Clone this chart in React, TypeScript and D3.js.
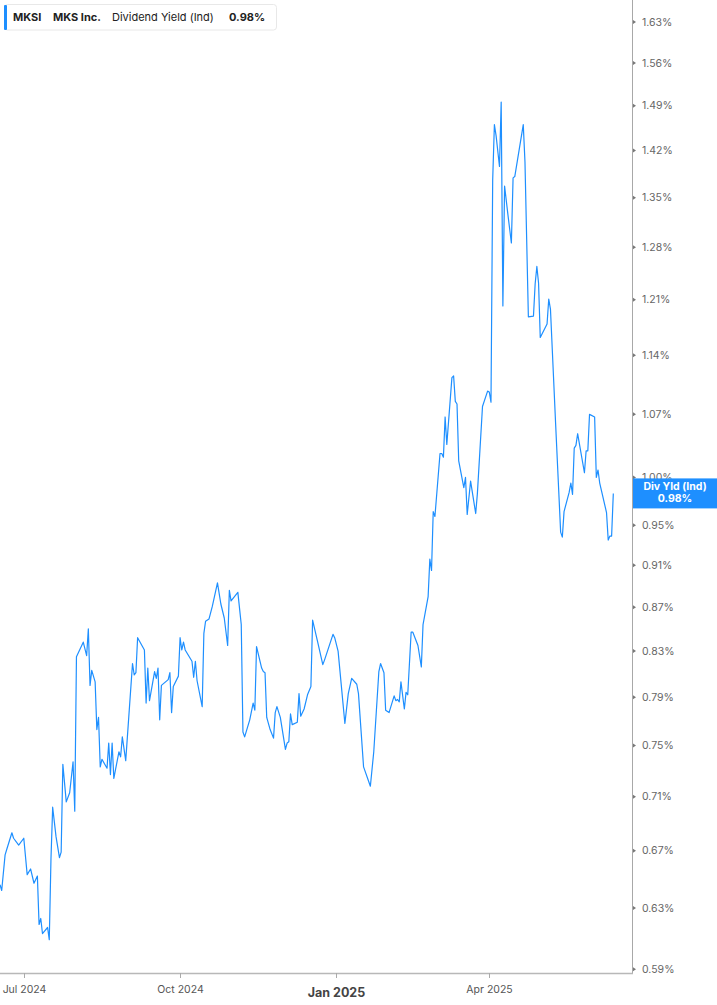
import * as d3 from 'd3';
import { useEffect, useRef } from 'react';

// trace of the dividend yield line (daily-ish points)
const dates: string[] = [
  "2024-06-17", "2024-06-18", "2024-06-20", "2024-06-21", "2024-06-24", "2024-06-25", "2024-06-28",
  "2024-07-01", "2024-07-03", "2024-07-05", "2024-07-07", "2024-07-09", "2024-07-10", "2024-07-11", "2024-07-12", "2024-07-15", "2024-07-16", "2024-07-17", "2024-07-18", "2024-07-20", "2024-07-22", "2024-07-23", "2024-07-24", "2024-07-26", "2024-07-28", "2024-07-30", "2024-07-31",
  "2024-08-01", "2024-08-05", "2024-08-07", "2024-08-08", "2024-08-09", "2024-08-10", "2024-08-12", "2024-08-13", "2024-08-14", "2024-08-15", "2024-08-16", "2024-08-19", "2024-08-20", "2024-08-21", "2024-08-22", "2024-08-23", "2024-08-26", "2024-08-27", "2024-08-28", "2024-08-30",
  "2024-09-03", "2024-09-04", "2024-09-05", "2024-09-06", "2024-09-10", "2024-09-11", "2024-09-12", "2024-09-13", "2024-09-16", "2024-09-17", "2024-09-18", "2024-09-19", "2024-09-20", "2024-09-24", "2024-09-25", "2024-09-26", "2024-09-27", "2024-09-30",
  "2024-10-01", "2024-10-02", "2024-10-03", "2024-10-04", "2024-10-08", "2024-10-09", "2024-10-10", "2024-10-11", "2024-10-14", "2024-10-15", "2024-10-16", "2024-10-18", "2024-10-20", "2024-10-23", "2024-10-25", "2024-10-27", "2024-10-29", "2024-10-30", "2024-10-31",
  "2024-11-04", "2024-11-06", "2024-11-07", "2024-11-08", "2024-11-11", "2024-11-13", "2024-11-14", "2024-11-15", "2024-11-18", "2024-11-19", "2024-11-20", "2024-11-21", "2024-11-23", "2024-11-25", "2024-11-26", "2024-11-27", "2024-11-29",
  "2024-12-02", "2024-12-03", "2024-12-04", "2024-12-05", "2024-12-06", "2024-12-09", "2024-12-10", "2024-12-11", "2024-12-13", "2024-12-15", "2024-12-17", "2024-12-18", "2024-12-21", "2024-12-24", "2024-12-25", "2024-12-30", "2024-12-31",
  "2025-01-02", "2025-01-06", "2025-01-08", "2025-01-10", "2025-01-13", "2025-01-14", "2025-01-17", "2025-01-21", "2025-01-23", "2025-01-26", "2025-01-27", "2025-01-29", "2025-01-30",
  "2025-02-01", "2025-02-04", "2025-02-05", "2025-02-06", "2025-02-07", "2025-02-08", "2025-02-10", "2025-02-11", "2025-02-12", "2025-02-14", "2025-02-15", "2025-02-18", "2025-02-20", "2025-02-21", "2025-02-24", "2025-02-25", "2025-02-26", "2025-02-27", "2025-02-28",
  "2025-03-03", "2025-03-04", "2025-03-05", "2025-03-06", "2025-03-07", "2025-03-10", "2025-03-11", "2025-03-12", "2025-03-13", "2025-03-14", "2025-03-17", "2025-03-18", "2025-03-19", "2025-03-21", "2025-03-24", "2025-03-25", "2025-03-28", "2025-03-31",
  "2025-04-01", "2025-04-02", "2025-04-03", "2025-04-04", "2025-04-05", "2025-04-07", "2025-04-08", "2025-04-09", "2025-04-10", "2025-04-12", "2025-04-14", "2025-04-15", "2025-04-16", "2025-04-21", "2025-04-22", "2025-04-24", "2025-04-27", "2025-04-28", "2025-04-29", "2025-04-30",
  "2025-05-01", "2025-05-05", "2025-05-06", "2025-05-07", "2025-05-10", "2025-05-13", "2025-05-14", "2025-05-15", "2025-05-18", "2025-05-19", "2025-05-20", "2025-05-21", "2025-05-22", "2025-05-23", "2025-05-27", "2025-05-28", "2025-05-29", "2025-05-30",
  "2025-06-02", "2025-06-03", "2025-06-04", "2025-06-05", "2025-06-09", "2025-06-10", "2025-06-11", "2025-06-12", "2025-06-13",
];

const yields: number[] = [
  0.646, 0.642, 0.667, 0.671, 0.683, 0.679, 0.674,
  0.679, 0.653, 0.657, 0.647, 0.652, 0.619, 0.623, 0.613, 0.617, 0.609, 0.664, 0.702, 0.680, 0.665, 0.669, 0.735, 0.706, 0.713, 0.737, 0.699,
  0.825, 0.838, 0.826, 0.850, 0.800, 0.813, 0.803, 0.763, 0.773, 0.733, 0.739, 0.732, 0.752, 0.727, 0.752, 0.724, 0.745, 0.741, 0.757, 0.738,
  0.819, 0.809, 0.811, 0.842, 0.831, 0.785, 0.815, 0.787, 0.812, 0.806, 0.815, 0.771, 0.800, 0.805, 0.811, 0.777, 0.799, 0.808,
  0.842, 0.831, 0.838, 0.831, 0.821, 0.807, 0.821, 0.804, 0.782, 0.846, 0.857, 0.859, 0.871, 0.893, 0.873, 0.860, 0.835, 0.886, 0.876,
  0.884, 0.854, 0.761, 0.757, 0.771, 0.785, 0.779, 0.834, 0.815, 0.812, 0.811, 0.773, 0.763, 0.756, 0.777, 0.782, 0.773,
  0.747, 0.752, 0.753, 0.776, 0.767, 0.769, 0.793, 0.774, 0.780, 0.792, 0.799, 0.858, 0.838, 0.818, 0.822, 0.845, 0.842,
  0.830, 0.768, 0.793, 0.806, 0.801, 0.793, 0.733, 0.718, 0.745, 0.812, 0.819, 0.811, 0.779,
  0.777, 0.791, 0.787, 0.788, 0.786, 0.803, 0.780, 0.794, 0.792, 0.847, 0.847, 0.835, 0.816, 0.854, 0.880, 0.916, 0.905, 0.964, 0.959,
  1.026, 1.026, 1.022, 1.067, 1.036, 1.113, 1.115, 1.085, 1.082, 1.018, 0.989, 1.000, 0.961, 0.996, 0.962, 0.983, 1.079, 1.097,
  1.096, 1.084, 1.376, 1.460, 1.443, 1.396, 1.496, 1.202, 1.367, 1.325, 1.286, 1.379, 1.381, 1.460, 1.403, 1.188, 1.189, 1.231, 1.254, 1.232,
  1.162, 1.179, 1.211, 1.198, 1.061, 0.943, 0.938, 0.964, 0.984, 0.994, 0.982, 1.032, 1.035, 1.048, 1.005, 1.029, 1.029, 1.070,
  1.067, 1.000, 1.008, 0.994, 0.963, 0.935, 0.939, 0.939, 0.983,
];

const yTicks = [1.63, 1.56, 1.49, 1.42, 1.35, 1.28, 1.21, 1.14, 1.07, 1.0, 0.95, 0.91, 0.87, 0.83, 0.79, 0.75, 0.71, 0.67, 0.63, 0.59];
const xTicks = ["2024-07-01", "2024-10-01", "2025-01-01", "2025-04-01"];
const xTickLabels = ["Jul 2024", "Oct 2024", "Jan 2025", "Apr 2025"];

const App = () => {
  const ref = useRef<SVGSVGElement>(null);

  useEffect(() => {
    const width = 717, height = 1005;
    const plotW = 632, plotH = 973;
    const font = "Inter, Roboto, 'Noto Sans', sans-serif";
    const parse = d3.timeParse("%Y-%m-%d");

    const svg = d3.select(ref.current);
    svg.selectAll("*").remove();
    svg.attr("width", width).attr("height", height).style("background", "#fff");

    const x = d3.scaleTime()
      .domain([new Date(2024, 5, 17), new Date(2025, 5, 24)])
      .range([0, plotW]);
    const y = d3.scaleLog()
      .domain([0.5876, 1.669])
      .range([plotH, 0]);

    const data = dates.map((d, i) => ({ date: parse(d) as Date, v: yields[i] }));

    // line
    const line = d3.line<any>()
      .x((d: any) => x(d.date))
      .y((d: any) => y(d.v));
    svg.append("path")
      .datum(data)
      .attr("fill", "none")
      .attr("stroke", "#1e8fff")
      .attr("stroke-width", 1.2)
      .attr("stroke-linejoin", "round")
      .attr("d", line);

    // y axis
    svg.append("line")
      .attr("x1", plotW + 0.5).attr("x2", plotW + 0.5)
      .attr("y1", 0).attr("y2", plotH + 1)
      .attr("stroke", "#a8a8a8");
    const yg = svg.append("g");
    yTicks.forEach((t) => {
      yg.append("path")
        .attr("d", `M${plotW + 1},${y(t) - 2} L${plotW + 4},${y(t)} L${plotW + 1},${y(t) + 2} Z`)
        .attr("fill", "#777");
      yg.append("text")
        .attr("x", plotW + 10)
        .attr("y", y(t))
        .attr("dy", "0.35em")
        .attr("font-family", font)
        .attr("font-size", 10.5)
        .attr("fill", "#666")
        .text(t.toFixed(2) + "%");
    });

    // x axis
    svg.append("line")
      .attr("x1", 0).attr("x2", plotW + 1)
      .attr("y1", plotH + 0.5).attr("y2", plotH + 0.5)
      .attr("stroke", "#b8b8b8")
      .attr("stroke-width", 1.6);
    xTicks.forEach((t, i) => {
      const px = Math.round(x(parse(t) as Date)) + 0.5;
      svg.append("line")
        .attr("x1", px).attr("x2", px)
        .attr("y1", plotH).attr("y2", plotH + 5)
        .attr("stroke", "#aaa");
      const isYear = xTickLabels[i].startsWith("Jan");
      svg.append("text")
        .attr("x", px)
        .attr("y", isYear ? 997 : 993)
        .attr("text-anchor", "middle")
        .attr("font-family", font)
        .attr("font-size", isYear ? 12.5 : 10.5)
        .attr("font-weight", isYear ? 700 : 400)
        .attr("fill", isYear ? "#444" : "#555")
        .text(xTickLabels[i]);
    });

    // last value label
    const last = yields[yields.length - 1];
    const ly = y(last);
    svg.append("rect")
      .attr("x", plotW + 1).attr("y", ly - 15)
      .attr("width", width - plotW - 1).attr("height", 30)
      .attr("fill", "#1e8fff");
    svg.append("text")
      .attr("x", 675).attr("y", ly - 3)
      .attr("text-anchor", "middle")
      .attr("font-family", font).attr("font-size", 10.5).attr("font-weight", 700)
      .attr("fill", "#fff")
      .text("Div Yld (Ind)");
    svg.append("text")
      .attr("x", 675).attr("y", ly + 9)
      .attr("text-anchor", "middle")
      .attr("font-family", font).attr("font-size", 10.5).attr("font-weight", 700)
      .attr("fill", "#fff")
      .text(last.toFixed(2) + "%");

    // header legend
    const hg = svg.append("g");
    hg.append("rect")
      .attr("x", 4.5).attr("y", 4.5).attr("width", 272).attr("height", 25.5).attr("rx", 3)
      .attr("fill", "#fff").attr("stroke", "#e8e8e8");
    hg.append("rect")
      .attr("x", 4).attr("y", 5).attr("width", 3).attr("height", 25).attr("rx", 1)
      .attr("fill", "#1e8fff");
    const items = [
      { t: "MKSI", x: 13, w: 700 },
      { t: "MKS Inc.", x: 53, w: 700 },
      { t: "Dividend Yield (Ind)", x: 112, w: 400 },
      { t: last.toFixed(2) + "%", x: 229, w: 700 },
    ];
    items.forEach((it) => {
      hg.append("text")
        .attr("x", it.x).attr("y", 21)
        .attr("font-family", font).attr("font-size", 11).attr("font-weight", it.w)
        .attr("fill", "#222")
        .text(it.t);
    });
  }, []);

  return (
    <svg ref={ref} style={{ position: "absolute", left: 0, top: 0, display: "block" }} />
  );
};

export default App;
